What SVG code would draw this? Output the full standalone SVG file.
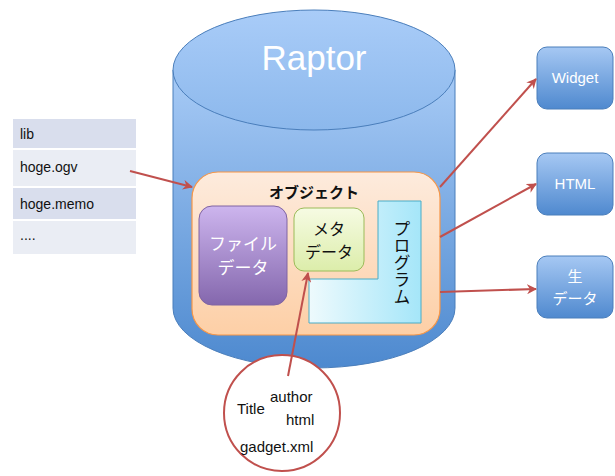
<svg xmlns="http://www.w3.org/2000/svg" width="615" height="476" viewBox="0 0 615 476">
  <style>
    .jp { font-family: "Liberation Sans", "Noto Sans CJK JP", sans-serif; }
    .row-a { fill: #d9deed; }
    .row-b { fill: #eaedf4; }
    .row-t { font-family: "Liberation Sans", "Noto Sans CJK JP", sans-serif; font-size: 14px; fill: #111; }
    .conn { stroke: #c0504d; stroke-width: 2; fill: none; marker-end: url(#arr); }
    .out { fill: url(#gOut); stroke: #4a7ebb; stroke-width: 1; }
    .out-t { font-family: "Liberation Sans", "Noto Sans CJK JP", sans-serif; font-size: 15px; fill: #fff; text-anchor: middle; }
    .c-t { font-family: "Liberation Sans", sans-serif; font-size: 15px; fill: #111; }
  </style>
  <defs>
    <linearGradient id="gCyl" x1="0" y1="0" x2="0" y2="1">
      <stop offset="0" stop-color="#a8cbf6"/>
      <stop offset="1" stop-color="#4d89cf"/>
    </linearGradient>
    <linearGradient id="gTop" x1="0" y1="0" x2="0" y2="1">
      <stop offset="0" stop-color="#a9ccf8"/>
      <stop offset="1" stop-color="#8cb8ec"/>
    </linearGradient>
    <linearGradient id="gObj" x1="0" y1="0" x2="0" y2="1">
      <stop offset="0" stop-color="#fdebdd"/>
      <stop offset="1" stop-color="#fdcfa6"/>
    </linearGradient>
    <linearGradient id="gFile" x1="0" y1="0" x2="0" y2="1">
      <stop offset="0" stop-color="#cdb5ee"/>
      <stop offset="1" stop-color="#8467ad"/>
    </linearGradient>
    <linearGradient id="gMeta" x1="0" y1="0" x2="0" y2="1">
      <stop offset="0" stop-color="#f6fbe3"/>
      <stop offset="1" stop-color="#dcedaa"/>
    </linearGradient>
    <linearGradient id="gProg" x1="0" y1="0" x2="1" y2="0">
      <stop offset="0" stop-color="#eefafd"/>
      <stop offset="1" stop-color="#a5e6f9"/>
    </linearGradient>
    <linearGradient id="gOut" x1="0" y1="0" x2="0" y2="1">
      <stop offset="0" stop-color="#a6c8f3"/>
      <stop offset="1" stop-color="#4f89cf"/>
    </linearGradient>
    <marker id="arr" viewBox="0 0 10 10" refX="9" refY="5" markerWidth="5" markerHeight="5" orient="auto-start-reverse">
      <path d="M0,0 L10,5 L0,10 L3,5 Z" fill="#c0504d"/>
    </marker>
  </defs>

  <!-- file list -->
  <g id="file-list">
    <rect class="row-a" x="13" y="119" width="123" height="29"/>
    <rect class="row-b" x="13" y="150" width="123" height="36"/>
    <rect class="row-a" x="13" y="188" width="123" height="31"/>
    <rect class="row-b" x="13" y="221" width="123" height="33"/>
    <text class="row-t" x="20" y="139">lib</text>
    <text class="row-t" x="20" y="172">hoge.ogv</text>
    <text class="row-t" x="20" y="209">hoge.memo</text>
    <text class="row-t" x="20" y="240">....</text>
  </g>

  <!-- Raptor store -->
  <g id="raptor">
    <path d="M173,70 L173,308 A141,60 0 0 0 455,308 L455,70 Z" fill="url(#gCyl)" stroke="#4a7ebb" stroke-width="1"/>
    <ellipse cx="314" cy="70" rx="141" ry="60" fill="url(#gTop)" stroke="#4a7ebb" stroke-width="1"/>
    <text x="314" y="70" font-family="Liberation Sans, sans-serif" font-size="35" fill="#fff" text-anchor="middle">Raptor</text>
  </g>

  <!-- object -->
  <g id="object">
    <rect x="192" y="172" width="248" height="163" rx="26" fill="url(#gObj)" stroke="#f79646" stroke-width="1.2"/>
    <text class="jp" x="314" y="198" font-size="15" font-weight="bold" fill="#111" text-anchor="middle">オブジェクト</text>
  </g>

  <g id="file-data">
    <rect x="199" y="206" width="88" height="99" rx="13" fill="url(#gFile)" stroke="#8064a2" stroke-width="1"/>
    <text class="jp" x="243" y="250" font-size="17" fill="#fff" text-anchor="middle">ファイル</text>
    <text class="jp" x="243" y="274" font-size="17" fill="#fff" text-anchor="middle">データ</text>
  </g>

  <g id="meta-data">
    <rect x="294" y="208" width="70" height="63" rx="10" fill="url(#gMeta)" stroke="#9bbb59" stroke-width="1"/>
    <text class="jp" x="329" y="235" font-size="16" fill="#111" text-anchor="middle">メタ</text>
    <text class="jp" x="329" y="258" font-size="16" fill="#111" text-anchor="middle">データ</text>
  </g>

  <g id="program">
    <polygon points="378,201 421,201 421,323 309,323 309,279 378,279" fill="url(#gProg)" stroke="#4bacc6" stroke-width="1"/>
    <text class="jp" x="400" y="220" font-size="17" fill="#111" text-anchor="start" writing-mode="vertical-rl" style="writing-mode: vertical-rl">プログラム</text>
  </g>

  <!-- outputs -->
  <g id="widget">
    <rect class="out" x="537" y="47" width="76" height="62" rx="10"/>
    <text class="out-t" x="575" y="83">Widget</text>
  </g>
  <g id="html">
    <rect class="out" x="537" y="153" width="76" height="62" rx="10"/>
    <text class="out-t" x="575" y="189">HTML</text>
  </g>
  <g id="raw-data">
    <rect class="out" x="537" y="256" width="76" height="62" rx="10"/>
    <text class="out-t" x="575" y="282">生</text>
    <text class="out-t" x="575" y="304">データ</text>
  </g>

  <!-- gadget.xml -->
  <g id="gadget">
    <circle cx="282" cy="413" r="58" fill="#fff" stroke="#c0504d" stroke-width="2"/>
    <text class="c-t" x="237" y="414">Title</text>
    <text class="c-t" x="270" y="402">author</text>
    <text class="c-t" x="286" y="425">html</text>
    <text class="c-t" x="240" y="452">gadget.xml</text>
  </g>

  <!-- connectors -->
  <g id="connectors">
    <line class="conn" x1="130" y1="171" x2="192" y2="187"/>
    <line class="conn" x1="288" y1="376" x2="308" y2="273"/>
    <line class="conn" x1="440" y1="187" x2="536" y2="79"/>
    <line class="conn" x1="440" y1="237" x2="536" y2="184"/>
    <line class="conn" x1="440" y1="292" x2="536" y2="289"/>
  </g>
</svg>
